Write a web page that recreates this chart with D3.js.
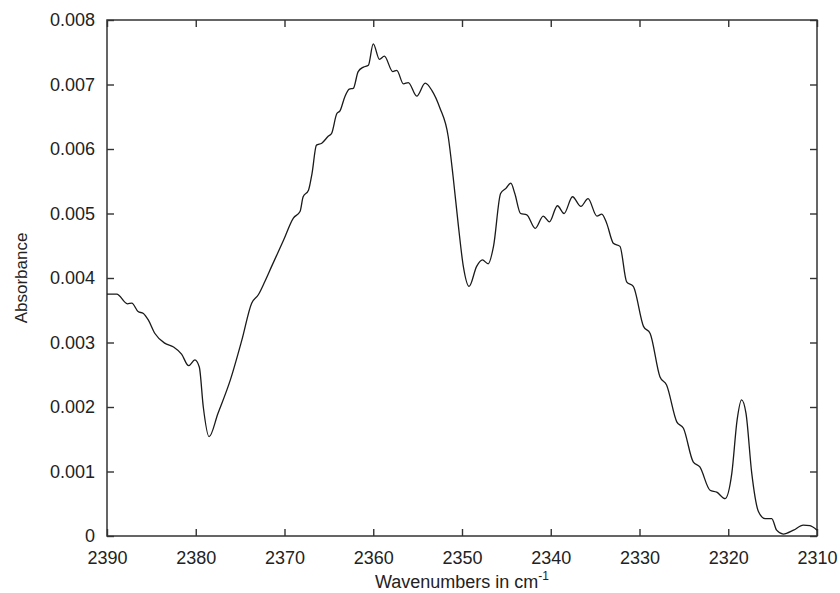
<!DOCTYPE html>
<html>
<head>
<meta charset="utf-8">
<script src="https://cdn.jsdelivr.net/npm/d3@7"></script>
<style>
  body { margin: 0; background: #fff; }
  text { font-family: "Liberation Sans", Arial, sans-serif; fill: #222; }
</style>
</head>
<body>
<script>
// spectrum: wavenumber (cm-1) and absorbance
var wavenumbers = [2390.0, 2388.9, 2387.7, 2387.2, 2386.5, 2385.9, 2385.35, 2384.6, 2383.5, 2382.5,
  2381.6, 2380.8, 2380.1, 2379.6, 2379.15, 2378.5, 2377.5, 2376.1, 2374.8, 2373.7,
  2372.95, 2372.2, 2371.45, 2370.1, 2369.0, 2368.25, 2367.9, 2367.3, 2366.9, 2366.4,
  2365.8, 2365.05, 2364.7, 2364.1, 2363.75, 2363.2, 2362.7, 2362.25, 2361.7, 2361.1,
  2360.55, 2360.0, 2359.3, 2358.75, 2357.8, 2357.35, 2356.6, 2356.05, 2355.1, 2354.15,
  2353.4, 2352.5, 2351.55, 2351.0, 2350.4, 2349.85, 2349.2, 2348.35, 2347.7, 2347.05,
  2346.45, 2345.65, 2345.05, 2344.5, 2344.05, 2343.4, 2342.7, 2341.75, 2340.85, 2340.15,
  2339.25, 2338.5, 2337.55, 2336.6, 2335.8, 2334.8, 2334.25, 2333.7, 2332.95, 2332.2,
  2331.45, 2330.7, 2329.55, 2328.8, 2327.7, 2326.95, 2325.8, 2325.05, 2323.95, 2323.2,
  2322.05, 2321.3, 2320.35, 2319.6, 2319.0, 2318.5, 2318.0, 2317.35, 2316.6, 2315.85,
  2315.1, 2314.55, 2313.8, 2312.65, 2311.55, 2310.8, 2310.0];
var absorbance = [0.00375, 0.00375, 0.00360, 0.00361, 0.00348, 0.00345, 0.00335, 0.00314, 0.00299, 0.00293,
  0.00282, 0.00264, 0.00273, 0.00262, 0.00200, 0.00154, 0.00190, 0.00242, 0.00304, 0.00361,
  0.00374, 0.00395, 0.00418, 0.00459, 0.00493, 0.00503, 0.00526, 0.00536, 0.00562, 0.00606,
  0.00609, 0.00620, 0.00624, 0.00655, 0.00659, 0.00681, 0.00693, 0.00694, 0.00720, 0.00727,
  0.00730, 0.00763, 0.00739, 0.00744, 0.00720, 0.00722, 0.00701, 0.00703, 0.00682, 0.00702,
  0.00691, 0.00664, 0.00619, 0.00557, 0.00480, 0.00418, 0.00387, 0.00418, 0.00428, 0.00422,
  0.00449, 0.00531, 0.00539, 0.00547, 0.00531, 0.00500, 0.00498, 0.00477, 0.00496, 0.00487,
  0.00512, 0.00500, 0.00526, 0.00511, 0.00523, 0.00496, 0.00499, 0.00485, 0.00454, 0.00449,
  0.00394, 0.00387, 0.00325, 0.00314, 0.00247, 0.00234, 0.00177, 0.00167, 0.00115, 0.00107,
  0.00071, 0.00068, 0.00058, 0.00097, 0.00180, 0.00211, 0.00190, 0.00097, 0.00038, 0.00027,
  0.00027, 0.00009, 0.00003, 0.00009, 0.00017, 0.00016, 0.00009];

var xTicks = [2390, 2380, 2370, 2360, 2350, 2340, 2330, 2320, 2310];
var yTicks = [0, 0.001, 0.002, 0.003, 0.004, 0.005, 0.006, 0.007, 0.008];

var width = 840, height = 593;
var margin = {left: 107, right: 23, top: 20, bottom: 57};
var w = width - margin.left - margin.right;
var h = height - margin.top - margin.bottom;

var x = d3.scaleLinear().domain([2390, 2310]).range([0, w]);
var y = d3.scaleLinear().domain([0, 0.008]).range([h, 0]);

var svg = d3.select("body").append("svg").attr("width", width).attr("height", height);
var g = svg.append("g").attr("transform", "translate(" + margin.left + "," + margin.top + ")");

var fmt = function(d) { return d === 0 ? "0" : d.toFixed(3); };

// ticks point inward on all four sides
g.append("g").attr("transform", "translate(0," + h + ")")
  .call(d3.axisBottom(x).tickValues(xTicks).tickSizeInner(-7).tickSizeOuter(0).tickPadding(15).tickFormat(d3.format("d")));
g.append("g")
  .call(d3.axisTop(x).tickValues(xTicks).tickSizeInner(-7).tickSizeOuter(0).tickFormat(""));
g.append("g")
  .call(d3.axisLeft(y).tickValues(yTicks).tickSizeInner(-7).tickSizeOuter(0).tickPadding(12).tickFormat(fmt));
g.append("g").attr("transform", "translate(" + w + ",0)")
  .call(d3.axisRight(y).tickValues(yTicks).tickSizeInner(-7).tickSizeOuter(0).tickFormat(""));

g.selectAll(".domain").remove();
g.selectAll(".tick line").attr("stroke", "#333").attr("stroke-width", 1.4);
g.selectAll(".tick text").attr("font-size", 18).attr("fill", "#222")
  .attr("font-family", "'Liberation Sans', Arial, sans-serif");

g.append("rect").attr("width", w).attr("height", h)
  .attr("fill", "none").attr("stroke", "#333").attr("stroke-width", 1.5);

var line = d3.line()
  .x(function(d, i) { return x(wavenumbers[i]); })
  .y(function(d) { return y(d); })
  .curve(d3.curveMonotoneX);

g.append("path").datum(absorbance)
  .attr("d", line)
  .attr("fill", "none")
  .attr("stroke", "#1a1a1a")
  .attr("stroke-width", 1.3);

// axis titles
svg.append("text")
  .attr("transform", "translate(27," + (margin.top + h / 2) + ") rotate(-90)")
  .attr("text-anchor", "middle")
  .attr("font-size", 17)
  .text("Absorbance");

var xt = svg.append("text")
  .attr("x", margin.left + w / 2)
  .attr("y", 588)
  .attr("text-anchor", "middle")
  .attr("font-size", 18);
xt.append("tspan").text("Wavenumbers in cm");
xt.append("tspan").attr("dy", -8).attr("font-size", 12).text("-1");
</script>
</body>
</html>
